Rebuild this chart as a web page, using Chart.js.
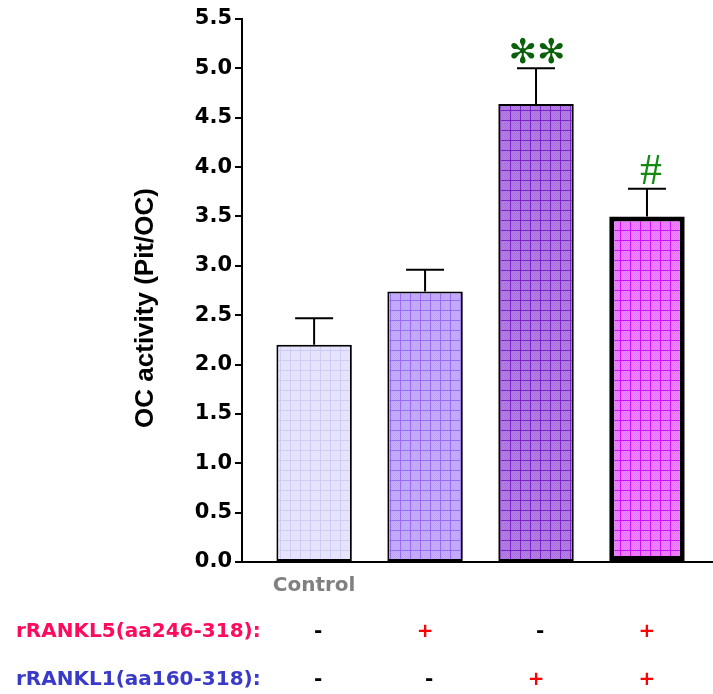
<!DOCTYPE html>
<html>
<head>
<meta charset="utf-8">
<script src="https://cdn.jsdelivr.net/npm/chart.js@4.4.0/dist/chart.umd.min.js"></script>
<style>
  html, body { margin: 0; padding: 0; background: #fff; }
</style>
</head>
<body>
<canvas id="chart" width="713" height="694"></canvas>
<script>
// Data
const groups = ['Control', '', '', ''];
const activity = [2.2, 2.74, 4.64, 3.5];
const errorTop = [2.47, 2.96, 5.0, 3.78];
const marks = ['', '', '\u273B\u273B', '#'];
const rankl5 = ['-', '+', '-', '+'];
const rankl1 = ['-', '-', '+', '+'];
const yTicks = [0, 0.5, 1, 1.5, 2, 2.5, 3, 3.5, 4, 4.5, 5, 5.5];

// Styles
const fillColors = ['#e7e6fd', '#c6b0fb', '#b282e2', '#ee88ff'];
const hatchColors = ['#cfcdf6', '#9a6cf4', '#7e22cc', '#cc10ff'];
const borderWidths = [2, 2, 2, 5];
const boldFont = 'bold 20px "DejaVu Sans"';

// Build a small grid pattern for each bar
function makePattern(base, line) {
    const c = document.createElement('canvas');
    c.width = 10;
    c.height = 10;
    const g = c.getContext('2d');
    g.fillStyle = base;
    g.fillRect(0, 0, 10, 10);
    g.globalAlpha = 0.18;
    g.fillStyle = line;
    for (let y = 0; y < 10; y++) {
        for (let x = 0; x < 10; x++) {
            if ((x + y) % 2 === 0) g.fillRect(x, y, 1, 1);
        }
    }
    g.globalAlpha = 1;
    g.fillRect(0, 0, 10, 1);
    g.fillRect(0, 0, 1, 10);
    return g.createPattern(c, 'repeat');
}

const patterns = fillColors.map((c, i) => makePattern(c, hatchColors[i]));

// Error bars, significance marks, treatment rows and axis title
const extras = {
    id: 'extras',
    afterDatasetsDraw(chart) {
        const ctx = chart.ctx;
        const x = chart.scales.x;
        const y = chart.scales.y;
        ctx.save();
        ctx.strokeStyle = '#000';
        ctx.lineWidth = 2;
        activity.forEach((v, i) => {
            const px = x.getPixelForValue(i);
            const top = y.getPixelForValue(errorTop[i]);
            ctx.beginPath();
            ctx.moveTo(px, y.getPixelForValue(v));
            ctx.lineTo(px, top);
            ctx.moveTo(px - 19, top);
            ctx.lineTo(px + 19, top);
            ctx.stroke();
        });
        // significance marks
        ctx.textAlign = 'center';
        marks.forEach((m, i) => {
            if (!m) return;
            const px = x.getPixelForValue(i);
            const top = y.getPixelForValue(errorTop[i]);
            if (m === '#') {
                ctx.fillStyle = '#148a14';
                ctx.font = '44px "Liberation Serif"';
                ctx.textBaseline = 'alphabetic';
                ctx.fillText(m, px + 4, top - 5);
            } else {
                ctx.fillStyle = '#0b600b';
                ctx.font = 'bold 34px "DejaVu Sans"';
                ctx.textBaseline = 'middle';
                ctx.fillText(m, px + 1, top - 14);
            }
        });
        ctx.restore();
    },
    afterDraw(chart) {
        const ctx = chart.ctx;
        const x = chart.scales.x;
        ctx.save();
        // y axis title
        ctx.translate(146, 308);
        ctx.rotate(-Math.PI / 2);
        ctx.font = 'bold 26px "Liberation Sans"';
        ctx.fillStyle = '#000';
        ctx.textAlign = 'center';
        ctx.textBaseline = 'middle';
        ctx.fillText('OC activity (Pit/OC)', 0, 0);
        ctx.restore();

        ctx.save();
        ctx.font = boldFont;
        ctx.textBaseline = 'middle';
        const rows = [
            { label: 'rRANKL5(aa246-318):', color: '#ff0a5c', signs: rankl5, y: 632 },
            { label: 'rRANKL1(aa160-318):', color: '#3a3ac8', signs: rankl1, y: 680 }
        ];
        rows.forEach(row => {
            ctx.textAlign = 'left';
            ctx.fillStyle = row.color;
            ctx.fillText(row.label, 16, row.y);
            ctx.textAlign = 'center';
            row.signs.forEach((s, i) => {
                ctx.fillStyle = s === '+' ? '#ff0000' : '#000';
                ctx.fillText(s, x.getPixelForValue(i) + (s === '-' ? 4 : 0), row.y);
            });
        });
        ctx.restore();
    }
};

new Chart(document.getElementById('chart').getContext('2d'), {
    type: 'bar',
    data: {
        datasets: [{
            data: activity.map((v, i) => ({ x: i, y: v })),
            backgroundColor: patterns,
            borderColor: '#000',
            borderWidth: borderWidths,
            borderSkipped: false,
            categoryPercentage: 1,
            barPercentage: 0.68
        }]
    },
    options: {
        responsive: false,
        animation: false,
        layout: { padding: { left: 0, right: 0, top: 19, bottom: 0 } },
        plugins: {
            legend: { display: false },
            tooltip: { enabled: false }
        },
        scales: {
            x: {
                type: 'linear',
                offset: false,
                min: -0.65,
                max: 3.595,
                afterBuildTicks: s => { s.ticks = groups.map((g, i) => ({ value: i })); },
                afterFit: s => { s.height = 132; },
                grid: { display: false, offset: false },
                border: { display: true, color: '#000', width: 2 },
                ticks: {
                    autoSkip: false,
                    maxRotation: 0,
                    padding: 4,
                    color: '#808080',
                    font: { family: 'DejaVu Sans', size: 20, weight: 'bold' },
                    callback: v => groups[v]
                }
            },
            y: {
                min: 0,
                max: 5.5,
                afterBuildTicks: s => { s.ticks = yTicks.map(v => ({ value: v })); },
                afterFit: s => { s.width = 242; },
                grid: {
                    drawOnChartArea: false,
                    drawTicks: true,
                    tickLength: 7,
                    color: '#000',
                    lineWidth: 2
                },
                border: { display: true, color: '#000', width: 2 },
                ticks: {
                    padding: 3,
                    color: '#000',
                    font: { family: 'DejaVu Sans', size: 21, weight: 'bold' },
                    callback: v => v.toFixed(1)
                }
            }
        }
    },
    plugins: [extras]
});
</script>
</body>
</html>
